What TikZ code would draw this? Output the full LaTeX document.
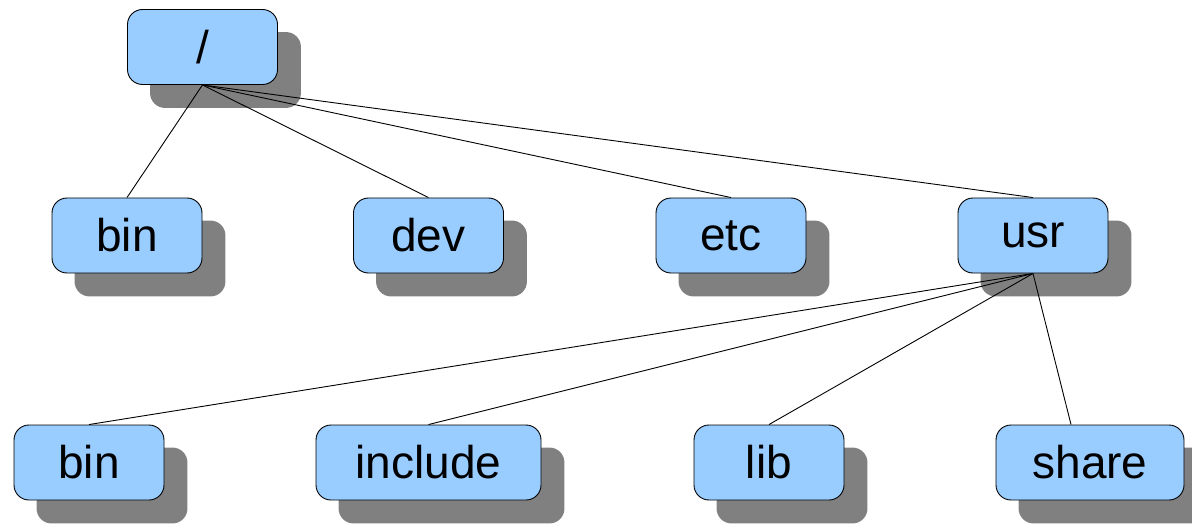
\documentclass[tikz,border=0pt]{standalone}
\usepackage{fontspec}
\setmainfont{Liberation Sans}
\definecolor{dirblue}{HTML}{99CCFF}
\definecolor{dirgray}{HTML}{808080}
\pgfdeclarelayer{shadow}
\pgfdeclarelayer{edges}
\pgfsetlayers{shadow,edges,main}
\tikzset{
	dirbox/.style={draw=black, fill=dirblue, rounded corners=15pt, line width=0.9pt,
		minimum width=150pt, minimum height=75pt, inner sep=0pt,
		font=\fontsize{46}{50}\selectfont},
	dirshadow/.style={fill=dirgray, rounded corners=15pt},
	dirline/.style={draw=black, line width=0.9pt}
}

\begin{document}
\begin{tikzpicture}[x=1pt,y=-1pt]
		
				\useasboundingbox (0,0) rectangle (1192,524);
				\clip (0,0) rectangle (1192,524);
			
				% the tree
				\node[dirbox] (root) at (202.5,47) {/};
				\node[dirbox] (bin) at (127,235.5) {bin};
				\node[dirbox] (dev) at (428.5,235.5) {dev};
				\node[dirbox] (etc) at (731,235.5) {etc};
				\node[dirbox] (usr) at (1033,235.5) {usr};
				\node[dirbox] (usrbin) at (89,462.5) {bin};
				\node[dirbox, minimum width=225pt] (include) at (428.5,462.5) {include};
				\node[dirbox] (lib) at (769,462.5) {lib};
				\node[dirbox, minimum width=188pt] (share) at (1090,462.5) {share};
			
				\begin{pgfonlayer}{shadow}% shadows behind the boxes
				\foreach \n in {root,bin,dev,etc,usr,usrbin,include,lib,share}
					\fill[dirshadow] ([shift={(23,23)}]\n.south west) rectangle ([shift={(23,23)}]\n.north east);
				\end{pgfonlayer}
			
				\begin{pgfonlayer}{edges}
				\foreach \n in {bin,dev,etc,usr}
					\draw[dirline] (root.south) -- (\n.north);
				\foreach \n in {usrbin,include,lib}
					\draw[dirline] (usr.south) -- (\n.north);
				\draw[dirline] (usr.south) -- ([xshift=-19pt]share.north);
				\end{pgfonlayer}
			\end{tikzpicture}
\end{document}
